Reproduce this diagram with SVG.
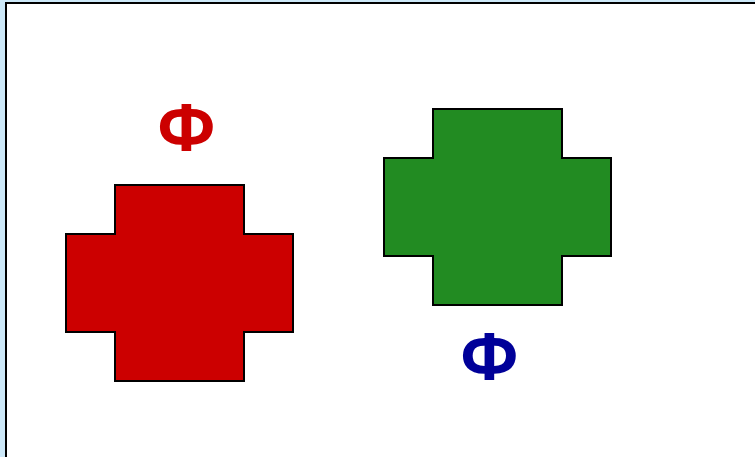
<svg xmlns="http://www.w3.org/2000/svg" width="755" height="457" viewBox="0 0 755 457">
<style>
.cross{stroke:#000;stroke-width:2}
.lbl{font-family:"Noto Sans",sans-serif;font-weight:bold;font-size:65px;text-anchor:middle}
</style>
<rect x="0" y="0" width="755" height="457" fill="#cce8f8"/>
<rect x="6" y="3" width="760" height="460" fill="#fff" stroke="#000" stroke-width="2"/>
<g id="red-cross">
<polygon class="cross" fill="#cc0000" points="115,185 244,185 244,234 293,234 293,332 244,332 244,381 115,381 115,332 66,332 66,234 115,234"/>
</g>
<g id="green-cross">
<polygon class="cross" fill="#228b22" points="433,109 562,109 562,158 611,158 611,256 562,256 562,305 433,305 433,256 384,256 384,158 433,158"/>
</g>
<g id="red-label"><text class="lbl" x="186.5" y="150" fill="#cc0000">Φ</text></g>
<g id="blue-label"><text class="lbl" x="489.5" y="379" fill="#000099">Φ</text></g>
<g id="connectors"/>
</svg>
